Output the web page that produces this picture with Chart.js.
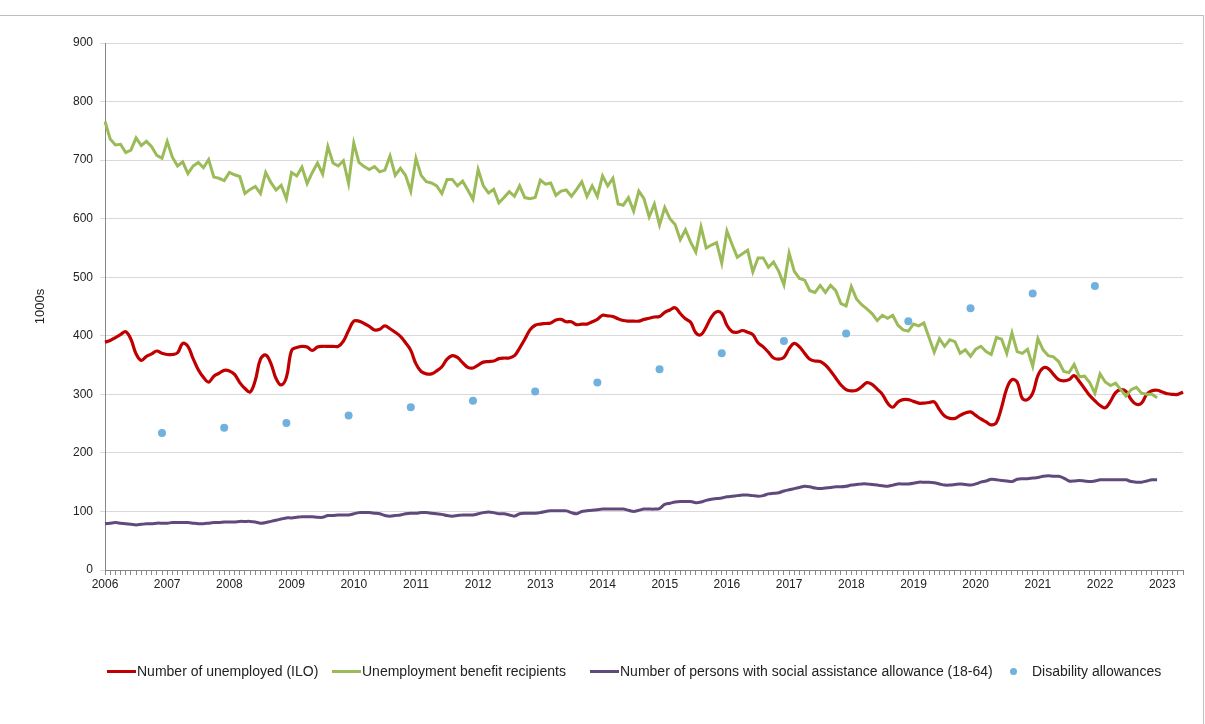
<!DOCTYPE html>
<html>
<head>
<meta charset="utf-8">
<script src="https://cdn.jsdelivr.net/npm/chart.js@4.4.1/dist/chart.umd.min.js"></script>
<style>
  body { margin: 0; background: #fff; font-family: "Liberation Sans", Arial, sans-serif; }
  #wrap { position: absolute; left: 0; top: 0; width: 1205px; height: 724px; }
  #frame { position: absolute; left: -2px; top: 15px; width: 1204px; height: 720px; border: 1px solid #bfbfbf; }
  #legend { position: absolute; left: 0; top: 662px; width: 1205px; font-size: 14px; color: #222; }
  .item { position: absolute; top: 0; white-space: nowrap; line-height: 18px; }
  .line { display: inline-block; width: 29px; height: 3px; vertical-align: middle; margin-right: 1px; position: relative; top: -1px; }
  .dot { display: inline-block; width: 7px; height: 7px; border-radius: 50%; vertical-align: middle; margin: 0 15px 0 0; position: relative; top: -1px; }
</style>
</head>
<body>
<div id="frame"></div>
<div id="wrap"><canvas id="chart"></canvas></div>
<div id="legend"></div>
<script>
"use strict"

// monthly series, Jan 2006 onwards (1000s)
const unemployed = [
  389, 392, 397, 402, 407, 394, 369, 358, 365, 369, 374, 370,
  368, 368, 371, 387, 382, 361, 342, 329, 321, 331, 336, 341,
  340, 334, 320, 310, 304, 324, 360, 367, 353, 327, 316, 329,
  375, 380, 382, 381, 375, 381, 382, 382, 382, 382, 391, 409,
  425, 425, 421, 416, 410, 411, 417, 412, 406, 399, 388, 375,
  352, 339, 335, 335, 340, 347, 360, 366, 363, 354, 346, 345,
  350, 355, 356, 357, 361, 362, 362, 366, 379, 394, 410, 418,
  420, 421, 422, 427, 428, 424, 424, 419, 420, 420, 424, 428,
  435, 434, 433, 429, 426, 425, 425, 425, 428, 430, 432, 433,
  440, 444, 448, 438, 429, 423, 405, 402, 415, 432, 441, 438,
  418, 407, 406, 409, 406, 402, 388, 381, 372, 362, 360, 363,
  378, 387, 381, 370, 360, 357, 356, 350, 340, 328, 316, 308,
  306, 307, 313, 320, 317, 309, 300, 285, 278, 287, 291, 291,
  288, 285, 285, 286, 287, 274, 263, 259, 259, 264, 268, 270,
  264, 258, 253, 248, 252, 278, 310, 325, 321, 293, 291, 302,
  332, 345, 344, 334, 325, 323, 325, 332, 322, 310, 298, 289,
  281, 277, 288, 303, 308, 305, 291, 283, 285, 300, 306, 307,
  304, 301, 300, 300, 304
];

const benefitRecipients = [
  766, 736, 726, 727, 713, 717, 738, 725, 732, 723, 708, 703,
  732, 705, 690, 697, 677, 690, 696, 687, 701, 671, 669, 665,
  679, 675, 672, 643, 650, 655, 643, 679, 662, 649, 657, 634,
  679, 673, 688, 660, 679, 695, 676, 723, 695, 690, 699, 660,
  729, 696, 689, 684, 689, 680, 683, 707, 674, 686, 674, 647,
  703, 674, 663, 661, 656, 643, 667, 667, 656, 664, 649, 633,
  684, 656, 644, 650, 627, 636, 646, 638, 656, 636, 634, 636,
  666, 659, 661, 640, 647, 649, 638, 650, 663, 638, 656, 638,
  673, 656, 669, 625, 623, 636, 613, 647, 634, 603, 625, 589,
  619, 600, 590, 564, 581, 560, 543, 586, 550, 555, 559, 524,
  579, 556, 534, 540, 546, 509, 533, 533, 517, 526, 510, 487,
  541, 510, 498, 495, 477, 474, 486, 474, 486, 477, 455, 451,
  484, 463, 453, 446, 438, 426, 435, 430, 435, 418, 410, 408,
  420, 417, 422, 397, 372, 395, 382, 393, 390, 370, 376, 365,
  377, 382, 373, 368, 397, 394, 370, 405, 373, 370, 377, 348,
  395, 376, 366, 364, 356, 339, 337, 351, 330, 331, 320, 302,
  335, 321, 315, 319, 308, 297, 308, 312, 302, 300, 300, 294
];

const socialAssistance = [
  79, 80, 81, 80, 79, 78, 77, 78, 79, 79, 80, 80,
  80, 81, 81, 81, 81, 80, 79, 79, 80, 81, 81, 82,
  82, 82, 83, 83, 83, 82, 80, 81, 83, 85, 87, 89,
  89, 90, 91, 91, 91, 90, 90, 93, 93, 94, 94, 94,
  96, 98, 98, 98, 97, 96, 93, 92, 93, 94, 96, 97,
  97, 98, 98, 97, 96, 95, 93, 92, 93, 94, 94, 94,
  96, 98, 99, 98, 96, 96, 94, 92, 96, 97, 97, 97,
  98, 100, 101, 101, 101, 101, 98, 96, 100, 101, 102, 103,
  104, 104, 104, 104, 104, 102, 100, 102, 104, 104, 104, 105,
  112, 114, 116, 117, 117, 117, 115, 116, 119, 121, 122, 123,
  125, 126, 127, 128, 128, 127, 126, 127, 130, 131, 132, 135,
  137, 139, 141, 143, 142, 140, 139, 140, 141, 142, 142, 143,
  145, 146, 147, 147, 146, 145, 144, 143, 145, 147, 147, 147,
  148, 150, 150, 150, 149, 147, 145, 145, 146, 147, 146, 145,
  147, 150, 152, 155, 154, 153, 152, 151, 155, 156, 156, 157,
  158, 160, 161, 160, 160, 157, 152, 152, 153, 152, 151, 152,
  154, 154, 154, 154, 154, 154, 151, 150, 150, 152, 154, 154
];

// disability allowances, one value per year (December)
const disabilityYears = [2006, 2007, 2008, 2009, 2010, 2011, 2012, 2013, 2014, 2015, 2016, 2017, 2018, 2019, 2020, 2021];
const disabilityValues = [234, 243, 251, 264, 278, 289, 305, 320, 343, 370, 391, 404, 425, 447, 472, 485];

const seriesNames = [
  'Number of unemployed (ILO)',
  'Unemployment benefit recipients',
  'Number of persons with social assistance allowance (18-64)',
  'Disability allowances'
];
const seriesColors = ['#C00000', '#9BBB59', '#604A7B', '#71B1DE'];

const startYear = 2006;
const months = [];
for (let i = 0; i < unemployed.length; i++) {
  const y = startYear + Math.floor(i / 12);
  const m = i % 12;
  months.push(y + '-' + String(m + 1).padStart(2, '0'));
}

const disability = months.map(() => null);
disabilityYears.forEach((y, k) => {
  const idx = (y - startYear) * 12 + 11;
  disability[idx] = disabilityValues[k];
});

const FONT = '"Liberation Sans", Arial, sans-serif';

new Chart(document.getElementById('chart'), {
  type: 'line',
  data: {
    labels: months,
    datasets: [
      {
        label: seriesNames[0],
        data: unemployed,
        borderColor: seriesColors[0],
        backgroundColor: seriesColors[0],
        borderWidth: 3.2,
        tension: 0.4,
        pointRadius: 0,
        order: 2
      },
      {
        label: seriesNames[1],
        data: benefitRecipients,
        borderColor: seriesColors[1],
        backgroundColor: seriesColors[1],
        borderWidth: 3,
        tension: 0,
        pointRadius: 0,
        order: 1
      },
      {
        label: seriesNames[2],
        data: socialAssistance,
        borderColor: seriesColors[2],
        backgroundColor: seriesColors[2],
        borderWidth: 3,
        tension: 0.3,
        pointRadius: 0,
        order: 3
      },
      {
        label: seriesNames[3],
        data: disability,
        showLine: false,
        borderColor: seriesColors[3],
        backgroundColor: seriesColors[3],
        pointRadius: 4,
        pointBorderWidth: 0,
        order: 0
      }
    ]
  },
  options: {
    responsive: true,
    maintainAspectRatio: false,
    animation: false,
    layout: { padding: { left: 0, right: 22, top: 43, bottom: 124 } },
    plugins: {
      legend: { display: false },
      tooltip: { enabled: false }
    },
    scales: {
      x: {
        type: 'category',
        offset: false,
        afterFit: (scale) => { scale.height = 30; },
        border: { color: '#868686', width: 1 },
        grid: { drawOnChartArea: false, drawTicks: true, tickLength: 5, color: '#868686' },
        ticks: {
          autoSkip: false,
          maxRotation: 0,
          minRotation: 0,
          padding: 2,
          color: '#222',
          font: { family: FONT, size: 12 },
          callback: function (val, i) {
            return i % 12 === 0 ? String(startYear + i / 12) : '';
          }
        }
      },
      y: {
        min: 0,
        max: 900,
        afterFit: (scale) => { scale.width = 105; },
        border: { color: '#868686', width: 1 },
        grid: { color: '#d9d9d9', tickLength: 5, drawTicks: true },
        ticks: {
          stepSize: 100,
          padding: 7,
          color: '#222',
          font: { family: FONT, size: 12 }
        },
        title: {
          display: true,
          text: '1000s',
          color: '#222',
          padding: { top: 33, bottom: 0 },
          font: { family: FONT, size: 13 }
        }
      }
    }
  }
});

// legend below the chart
const legendPos = [107, 332, 590, 1010];
const legend = document.getElementById('legend');
seriesNames.forEach((name, k) => {
  const item = document.createElement('div');
  item.className = 'item';
  item.style.left = legendPos[k] + 'px';
  const mark = document.createElement('span');
  mark.className = k === 3 ? 'dot' : 'line';
  mark.style.background = seriesColors[k];
  item.appendChild(mark);
  item.appendChild(document.createTextNode(name));
  legend.appendChild(item);
});
</script>
</body>
</html>
